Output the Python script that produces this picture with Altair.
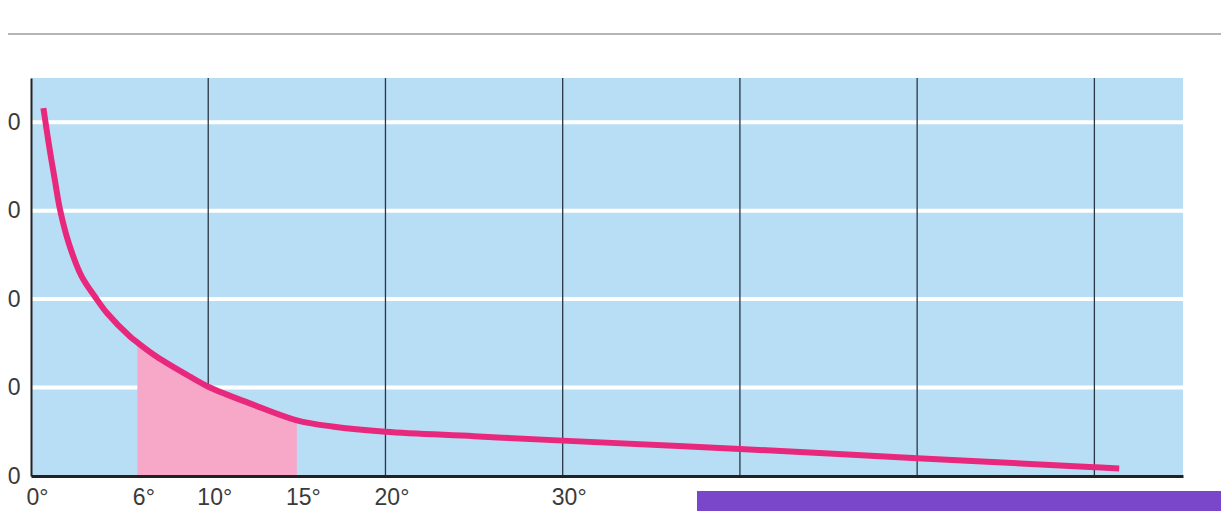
import altair as alt
import pandas as pd

# --- data ---
angles = [0.7, 1.0, 1.35, 1.65, 2.15, 2.85, 3.6, 4.3, 5.6, 6.0, 7.1, 9.0, 10.0,
          12.5, 15.0, 17.0, 20.0, 25.0, 30.0, 40.0, 50.0, 60.0, 61.4]
values = [208, 188, 167, 150, 131, 113, 101.5, 92, 78.7, 75.5, 67.4, 56, 50.5,
          40.5, 31.5, 28, 25, 22.5, 20, 15.3, 10, 5, 4.3]
shade_from, shade_to = 6, 15
x_ticks = [0, 6, 10, 15, 20, 30]
y_ticks = [0, 50, 100, 150, 200]
v_lines = [10, 20, 30, 40, 50, 60]
h_lines = [50, 100, 150, 200]

df = pd.DataFrame({"angle": angles, "value": values})
shade = df[(df["angle"] >= shade_from) & (df["angle"] <= shade_to)]
vdf = pd.DataFrame({"angle": v_lines})
hdf = pd.DataFrame({"value": h_lines})

FONT = "Liberation Sans"
x_enc = alt.X(
    "angle:Q",
    scale=alt.Scale(domain=[0, 65], nice=False, zero=False),
    axis=alt.Axis(values=x_ticks, labelExpr="datum.value + '°'", title=None,
                  ticks=False, grid=False, domainColor="#222222", domainWidth=3,
                  labelFontSize=23, labelColor="#3a3a3a", labelFont=FONT,
                  labelPadding=10, labelOffset=6, labelFlush=False, zindex=1),
)
y_enc = alt.Y(
    "value:Q",
    scale=alt.Scale(domain=[0, 225], nice=False),
    axis=alt.Axis(values=y_ticks, title=None, ticks=False, grid=False,
                  domainColor="#222222", domainWidth=2, labelFontSize=23,
                  labelColor="#3a3a3a", labelFont=FONT, labelPadding=11,
                  zindex=1),
)

hrules = alt.Chart(hdf).mark_rule(color="white", strokeWidth=4).encode(y=y_enc)
vrules = alt.Chart(vdf).mark_rule(color="#2a3644", strokeWidth=1.3).encode(x=x_enc)
area = alt.Chart(shade).mark_area(color="#f7a8c9", interpolate="catmull-rom", opacity=1).encode(
    x=x_enc, y=y_enc)
line = alt.Chart(df).mark_line(color="#e8287c", strokeWidth=6, interpolate="catmull-rom",
                               strokeCap="butt").encode(x=x_enc, y=y_enc)

deco = pd.DataFrame({"k": [0]})
page_line = alt.Chart(deco).mark_rule(color="#b5b5b5", strokeWidth=2).encode(
    x=alt.value(-23), x2=alt.value(1190), y=alt.value(-44))
purple = alt.Chart(deco).mark_rect(color="#7a47cb").encode(
    x=alt.value(666), x2=alt.value(1190), y=alt.value(413), y2=alt.value(433))

chart = alt.layer(hrules, vrules, area, line, page_line, purple).properties(
    width=1152, height=398,
    padding={"left": 23, "top": 70, "right": 38, "bottom": 35},
    autosize=alt.AutoSizeParams(type="none"),
    background="white",
).configure_view(fill="#b8def5", strokeWidth=0)

chart.save("out.html", embed_options={"renderer": "svg", "actions": False})
